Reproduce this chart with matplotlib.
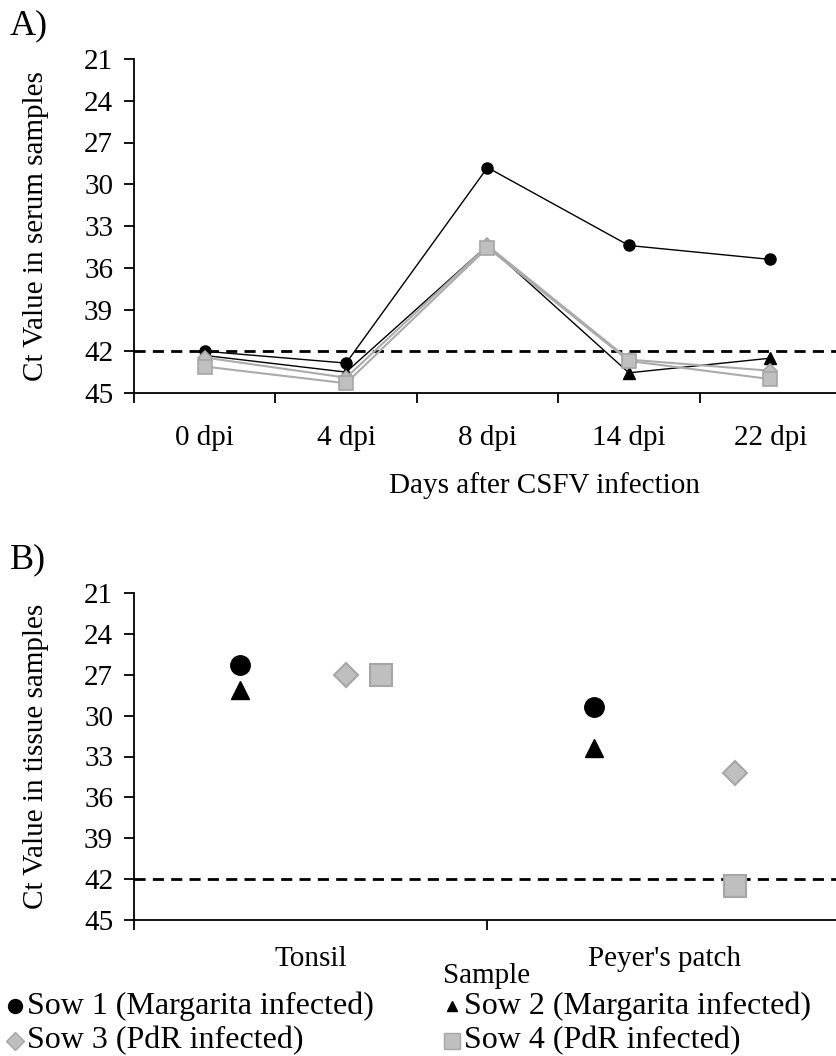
import matplotlib
matplotlib.use('Agg')
import matplotlib.pyplot as plt
from matplotlib.lines import Line2D
import numpy as np

plt.rcParams['font.family'] = ['Liberation Serif', 'DejaVu Serif']
FS = 21

# ---------------- data ----------------
days = ['0 dpi', '4 dpi', '8 dpi', '14 dpi', '22 dpi']
sow1_serum = [42.0, 42.85, 28.8, 34.4, 35.4]
sow2_serum = [42.3, 43.5, 34.4, 43.55, 42.5]
sow3_serum = [42.45, 43.9, 34.4, 42.6, 43.4]
sow4_serum = [43.1, 44.3, 34.55, 42.7, 44.0]

samples = ['Tonsil', "Peyer's patch"]
sow1_tissue = [26.3, 29.4]
sow2_tissue = [28.1, 32.4]
sow3_tissue = [27.0, 34.2]
sow4_tissue = [27.0, 42.5]

cutoff = 42
y_ticks = [21, 24, 27, 30, 33, 36, 39, 42, 45]
series_labels = ['Sow 1 (Margarita infected)', 'Sow 2 (Margarita infected)',
                 'Sow 3 (PdR infected)', 'Sow 4 (PdR infected)']

# ---------------- layout ----------------
W, H = 837, 1056
fig = plt.figure(figsize=(W / 100, H / 100), dpi=100)

def px_axes(left, top, right, bottom):
    return fig.add_axes([left / W, 1 - bottom / H, (right - left) / W, (bottom - top) / H])

GRAY = '#BFBFBF'
GRAY_E = '#A6A6A6'
GRAY_L = '#ABABAB'

def style_axes(ax, ncat, xpad):
    ax.set_ylim(45, 21)
    ax.set_yticks(y_ticks)
    ax.set_xlim(-0.5, ncat - 0.5)
    ax.set_xticks(np.arange(ncat + 1) - 0.5)
    ax.set_xticklabels([])
    ax.set_xticks(np.arange(ncat), minor=True)
    for s in ['top', 'right']:
        ax.spines[s].set_visible(False)
    for s in ['left', 'bottom']:
        ax.spines[s].set_linewidth(1.3)
    ax.tick_params(axis='y', direction='out', length=7, width=1.3, labelsize=FS, pad=8)
    ax.tick_params(axis='x', which='major', direction='out', length=7, width=1.3)
    ax.tick_params(axis='x', which='minor', length=0, labelsize=FS, pad=xpad)
    ax.axhline(cutoff, color='black', lw=2, ls=(0, (4, 2.6)), zorder=1)

# ---------------- panel A ----------------
axA = px_axes(134, 59, 841, 393)
style_axes(axA, len(days), 23)
x = np.arange(len(days))
axA.plot(x, sow1_serum, color='black', lw=1.0, marker='o', ms=8, mfc='black', mec='black', zorder=3)
axA.plot(x, sow2_serum, color='black', lw=1.0, marker='^', ms=8, mfc='black', mec='black', zorder=4)
axA.plot(x, sow3_serum, color=GRAY_L, lw=1.5, marker='D', ms=7, mfc=GRAY, mec=GRAY_E, mew=1.2, zorder=5)
axA.plot(x, sow4_serum, color=GRAY_L, lw=1.5, marker='s', ms=10, mfc=GRAY, mec=GRAY_E, mew=1.2, zorder=6)
axA.set_xticklabels(days, minor=True)
axA.set_ylabel('Ct Value in serum samples', fontsize=FS)
axA.yaxis.set_label_coords(-0.12, 0.5)
fig.text(545 / W, 1 - 486 / H, 'Days after CSFV infection', fontsize=FS, ha='center', va='center')
fig.text(10 / W, 1 - 34 / H, 'A)', fontsize=FS + 5, ha='left', va='baseline')

# ---------------- panel B ----------------
axB = px_axes(134, 593, 841, 920)
style_axes(axB, len(samples), 19)
xb = np.arange(len(samples))
off1 = np.array([-0.2, -0.2])
off2 = np.array([-0.2, -0.2])
off3 = np.array([0.1, 0.2])
off4 = np.array([0.2, 0.2])
axB.plot(xb + off1, sow1_tissue, ls='none', marker='o', ms=14, mfc='black', mec='black', zorder=3)
axB.plot(xb + off2, sow2_tissue, ls='none', marker='^', ms=13, mfc='black', mec='black', zorder=4)
axB.plot(xb + off3, sow3_tissue, ls='none', marker='D', ms=12.5, mfc=GRAY, mec=GRAY_E, mew=1.5, zorder=5)
axB.plot(xb + off4, sow4_tissue, ls='none', marker='s', ms=16.5, mfc=GRAY, mec=GRAY_E, mew=1.5, zorder=6)
axB.set_xticklabels(samples, minor=True)
axB.set_ylabel('Ct Value in tissue samples', fontsize=FS)
axB.yaxis.set_label_coords(-0.12, 0.5)
fig.text(487 / W, 1 - 976 / H, 'Sample', fontsize=FS, ha='center', va='center')
fig.text(10 / W, 1 - 568 / H, 'B)', fontsize=FS + 5, ha='left', va='baseline')

# ---------------- legend (2 rows x 2 columns) ----------------
leg_fs = 23
leg_handles = [
    dict(marker='o', ms=10, mfc='black', mec='black'),
    dict(marker='^', ms=7, mfc='black', mec='black'),
    dict(marker='D', ms=9, mfc=GRAY, mec=GRAY_E),
    dict(marker='s', ms=12, mfc=GRAY, mec=GRAY_E),
]
col_x = [15, 452]
row_y = [1006, 1041]
for i, (lab, hs) in enumerate(zip(series_labels, leg_handles)):
    cx = col_x[i % 2]
    cy = row_y[i // 2]
    fig.add_artist(Line2D([cx / W], [1 - cy / H], ls='none', transform=fig.transFigure, **hs))
    fig.text((cx + 12) / W, 1 - cy / H, lab, fontsize=leg_fs, ha='left', va='center')

fig.savefig('out.png', dpi=100)
